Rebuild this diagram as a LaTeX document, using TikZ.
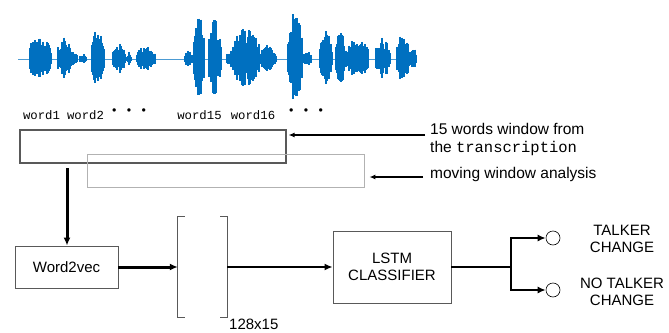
\documentclass[tikz,border=0pt]{standalone}
\usepackage{fontspec}
\setmainfont{Liberation Sans}
\setmonofont{Liberation Mono}
\usetikzlibrary{positioning,arrows.meta}
\definecolor{wave}{RGB}{0,112,192}
\definecolor{boxline}{gray}{0.35}

\begin{document}
\begin{tikzpicture}[x=1pt,y=-1pt,>={Latex[length=8pt,width=7pt]},
  lbl/.style={font=\fontsize{15}{17}\selectfont,align=center,inner sep=0pt},
  note/.style={font=\fontsize{15.5}{18}\selectfont,align=left,inner sep=0pt},
  word/.style={font=\ttfamily\fontsize{12.3}{14}\selectfont,inner sep=0pt},
  procbox/.style={draw=boxline,line width=0.9pt,inner sep=0pt,lbl},
  outdot/.style={circle,draw=black,line width=0.6pt,minimum size=14pt,inner sep=0pt},
  notearrow/.style={->,line width=1.8pt,>={Latex[length=6pt,width=5pt]}}]

\useasboundingbox (0,0) rectangle (669,332);

% Speech waveform
\pgfmathsetseed{11}
\draw[wave!70,line width=0.8pt] (18,59) -- (416,59);
\foreach \c/\w/\a in {38/8/26, 47/4/20, 65/7/24, 74/3/10, 83/3/6, 98/6/34, 119/6/16,
  129/2/8, 146/9/14, 189/4/9, 199/5/46, 215/6/40, 230/3/10, 246/13/34, 268/8/14,
  295/7/47, 307/4/8, 326/6/29, 340/4/34, 357/11/22, 383/7/22, 403/6/26, 413/3/14} {
  \pgfmathtruncatemacro\n{2*\w}
  \foreach \j in {0,...,\n} {
    \pgfmathsetmacro\i{\j-\w}
    \pgfmathsetmacro\h{\a*(1-0.5*(\i/\w)^2)*(0.45+0.55*rnd)}
    \draw[wave,line width=1.3pt] (\c+\i,59-\h) -- (\c+\i,59+0.9*\h);
  }
}

% Words of the transcription
\node[word] (w1) at (41.5,115) {word1};
\node[word] (w2) at (85.5,115) {word2};
\node[word] (d1) at (129,112) {\textbullet\ \textbullet\ \textbullet};
\node[word] (w15) at (199.5,115) {word15};
\node[word] (w16) at (253,115) {word16};
\node[word] (d2) at (306,112) {\textbullet\ \textbullet\ \textbullet};

% Word windows
\node[draw=boxline,line width=1.1pt,minimum width=266pt,minimum height=33pt] (win) at (153,146.5) {};
\node[draw=black!30,line width=0.9pt,minimum width=277pt,minimum height=33pt] (mov) at (225.5,170.5) {};

% Notes on the right
\node[note,anchor=north west] (wintxt) at (430,123) {15 words window from\\the \texttt{transcription}};
\node[note,anchor=west] (movtxt) at (430,174) {moving window analysis};
\coordinate (wintip) at (425,135);
\coordinate (movtip) at (423,177);
\draw[notearrow] (wintip) -- ([xshift=2pt]win.east |- wintip);
\draw[notearrow] (movtip) -- ([xshift=5pt]mov.east |- movtip);

% Processing chain
\node[procbox,minimum width=103pt,minimum height=42pt] (w2v) at (66.5,267) {Word2vec};
\node[minimum width=49pt,minimum height=101pt,inner sep=0pt] (mat) at (202.5,267) {};
\draw[boxline,line width=0.9pt] ([xshift=7pt]mat.north west) -| (mat.south west) -- ++(7,0);
\draw[boxline,line width=0.9pt] ([xshift=-7pt]mat.north east) -| (mat.south east) -- ++(-7,0);
\node[lbl,anchor=west] (dim) at (229,324) {128x15};
\node[procbox,minimum width=118pt,minimum height=72pt] (lstm) at (392,267) {LSTM\\CLASSIFIER};

\coordinate (tap) at (67,168);
\draw[->,line width=3pt] (tap) -- (tap |- w2v.north);
\draw[->,line width=3pt] (w2v) -- (mat.west |- w2v);
\draw[->,line width=1.5pt] (mat.east |- lstm) -- (lstm);

% Outputs
\node[outdot] (yes) at (553,238) {};
\node[outdot] (no) at (553,290) {};
\node[lbl] (yestxt) at (622,239) {TALKER\\CHANGE};
\node[lbl] (notxt) at (622,292) {NO TALKER\\CHANGE};
\coordinate (split) at (511,267);
\draw[line width=1.5pt] (lstm) -- (split);
\draw[->,line width=2pt] (split) |- (yes);
\draw[->,line width=2pt] (split) |- (no);

\end{tikzpicture}
\end{document}
